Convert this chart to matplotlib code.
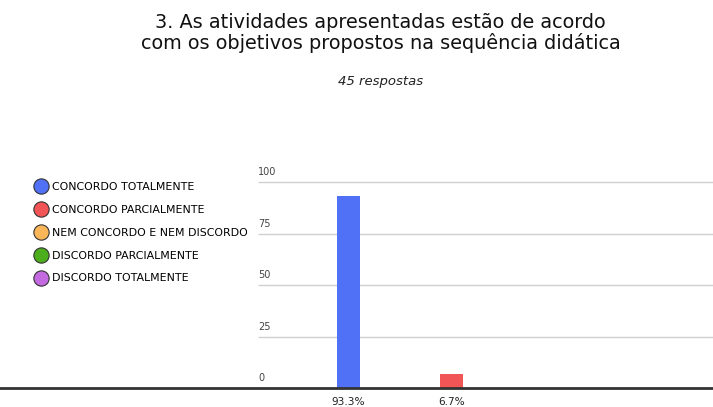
import matplotlib.pyplot as plt
from matplotlib.lines import Line2D
import numpy as np

plt.rcParams['font.family'] = ['DejaVu Sans']

# data
categories = ['CONCORDO TOTALMENTE', 'CONCORDO PARCIALMENTE', 'NEM CONCORDO E NEM DISCORDO',
              'DISCORDO PARCIALMENTE', 'DISCORDO TOTALMENTE']
percentages = [93.3, 6.7, 0, 0, 0]
colors = ['#5070f5', '#f25555', '#fbb65a', '#4cae1c', '#c46ae0']
y_ticks = [0, 25, 50, 75, 100]

title = '3. As atividades apresentadas estão de acordo\ncom os objetivos propostos na sequência didática'
subtitle = '45 respostas'

fig = plt.figure(figsize=(7.13, 4.07), dpi=100)
# axes spans full width so the baseline can run edge to edge
ax = fig.add_axes([0, 18.7 / 407, 1, 206 / 407])

x = np.arange(len(categories))
ax.bar(x, percentages, width=0.22, color=colors, zorder=3)

# category positions: first at 348.5px, step 103.3px
step = 103.3
ax.set_xlim(-348.5 / step, (713 - 348.5) / step)
ax.set_ylim(0, 100)
grid_start = (258.3 - 348.5) / step

for t in y_ticks[1:]:
    ax.hlines(t, grid_start, ax.get_xlim()[1], color='#d0d0d0', lw=1, zorder=1, clip_on=False)
ax.axhline(0, color='#333333', lw=2, zorder=4, clip_on=False)
for t in y_ticks:
    ax.annotate(str(t), (grid_start, t), xytext=(0, 3.5), textcoords='offset points',
                fontsize=7, color='#444444', ha='left', va='bottom', annotation_clip=False)

for xi, p in zip(x, percentages):
    if p > 0:
        ax.annotate(f'{p:.1f}%', (xi, 0), xytext=(0, -6.5), textcoords='offset points',
                    fontsize=7.6, color='#222222', ha='center', va='top', annotation_clip=False)

ax.set_xticks([])
ax.set_yticks([])
for s in ax.spines.values():
    s.set_visible(False)
ax.patch.set_visible(False)

handles = [Line2D([], [], marker='o', linestyle='none', markersize=11, markerfacecolor=c,
                  markeredgecolor='#333333', markeredgewidth=0.8) for c in colors]
fig.legend(handles, categories, loc='upper left', bbox_to_anchor=(33 / 713, 1 - 182 / 407),
           frameon=False, fontsize=7.9, labelspacing=1.17, handletextpad=0.35, handlelength=1.4,
           borderaxespad=0, borderpad=0)

fig.text(0.534, 1 - 33 / 407, title, ha='center', va='center', fontsize=13.9,
         color='#111111', linespacing=1.05)
fig.text(0.534, 1 - 82 / 407, subtitle, ha='center', va='center', fontsize=9.5,
         style='italic', color='#222222')

fig.savefig('out.png', dpi=100)
